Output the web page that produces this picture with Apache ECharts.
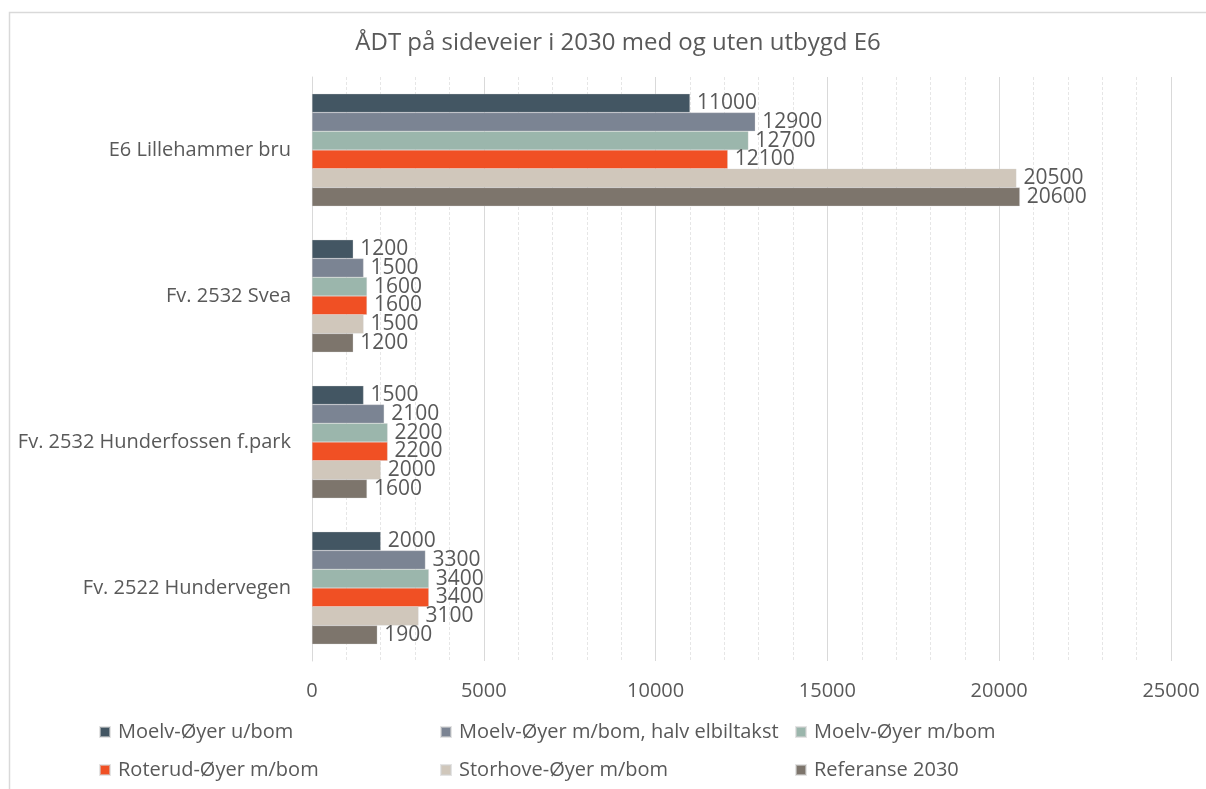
<!DOCTYPE html>
<html>
<head>
<meta charset="utf-8">
<style>
  html, body { margin: 0; padding: 0; background: #fff; }
  #chart { width: 1206px; height: 789px; }
</style>
<script src="https://cdn.jsdelivr.net/npm/echarts@6/dist/echarts.min.js"></script>
</head>
<body>
<div id="chart"></div>
<script>
// Road segments (top to bottom)
const categories = [
  'E6 Lillehammer bru',
  'Fv. 2532 Svea',
  'Fv. 2532 Hunderfossen f.park',
  'Fv. 2522 Hundervegen'
];

// Scenario names
const seriesNames = [
  'Moelv-Øyer u/bom',
  'Moelv-Øyer m/bom, halv elbiltakst',
  'Moelv-Øyer m/bom',
  'Roterud-Øyer m/bom',
  'Storhove-Øyer m/bom',
  'Referanse 2030'
];

// ÅDT per scenario, one value per road segment
const moelvUtenBom = [11000, 1200, 1500, 2000];
const moelvHalvElbil = [12900, 1500, 2100, 3300];
const moelvMedBom = [12700, 1600, 2200, 3400];
const roterudMedBom = [12100, 1600, 2200, 3400];
const storhoveMedBom = [20500, 1500, 2000, 3100];
const referanse2030 = [20600, 1200, 1600, 1900];

const seriesValues = [moelvUtenBom, moelvHalvElbil, moelvMedBom, roterudMedBom, storhoveMedBom, referanse2030];
const colors = ['#435663', '#7B8493', '#9BB6AC', '#F05024', '#D0C7BB', '#7D756C'];

const textColor = '#595959';
const fontFamily = '"Open Sans", "Noto Sans", sans-serif';

// Legend placement: two rows of three entries
const legendPos = [
  { left: 99, top: 722 }, { left: 440, top: 722 }, { left: 795, top: 722 },
  { left: 99, top: 760 }, { left: 440, top: 760 }, { left: 795, top: 760 }
];

const chart = echarts.init(document.getElementById('chart'), null, { renderer: 'canvas' });

const option = {
  backgroundColor: '#ffffff',
  animation: false,
  color: colors,
  title: {
    text: 'ÅDT på sideveier i 2030 med og uten utbygd E6',
    left: 613,
    top: 26,
    textAlign: 'center',
    textStyle: { color: textColor, fontSize: 24, fontWeight: 'normal', fontFamily: fontFamily }
  },
  graphic: [{
    type: 'rect',
    left: 7, top: 10,
    shape: { width: 1210, height: 800 },
    style: { fill: 'none', stroke: '#D9D9D9', lineWidth: 1.5 },
    silent: true,
    z: -1
  }],
  legend: seriesNames.map((name, i) => ({
    data: [name],
    left: legendPos[i].left,
    top: legendPos[i].top,
    icon: 'rect',
    itemWidth: 10,
    itemHeight: 10,
    itemGap: 0,
    padding: 0,
    selectedMode: false,
    textStyle: { color: textColor, fontSize: 20, fontFamily: fontFamily, padding: [0, 0, 0, 3] }
  })),
  grid: { left: 312, right: 35, top: 77, bottom: 128, containLabel: false },
  xAxis: {
    type: 'value',
    min: 0,
    max: 25000,
    interval: 5000,
    axisLine: { show: false },
    axisTick: { show: false },
    axisLabel: {
      color: textColor, fontSize: 20, fontFamily: fontFamily, margin: 20,
      formatter: (v) => String(v)
    },
    splitLine: { show: true, lineStyle: { color: '#D9D9D9', width: 1 } },
    minorTick: { show: false, splitNumber: 5 },
    minorSplitLine: { show: true, lineStyle: { color: '#E6E6E6', width: 1, type: [3, 2] } }
  },
  yAxis: {
    type: 'category',
    data: categories,
    inverse: true,
    axisLine: { show: true, lineStyle: { color: '#D9D9D9', width: 1 } },
    axisTick: { show: false },
    axisLabel: { color: textColor, fontSize: 20, fontFamily: fontFamily, margin: 21 }
  },
  series: seriesNames.map((name, i) => ({
    name: name,
    type: 'bar',
    data: seriesValues[i],
    barGap: '0%',
    barCategoryGap: '23%',
    itemStyle: { color: colors[i], borderColor: 'rgba(210,210,210,0.6)', borderWidth: 0.5 },
    label: {
      show: true,
      position: 'right',
      distance: 7,
      color: textColor,
      fontSize: 21,
      fontFamily: fontFamily
    }
  }))
};

chart.setOption(option);
</script>
</body>
</html>
